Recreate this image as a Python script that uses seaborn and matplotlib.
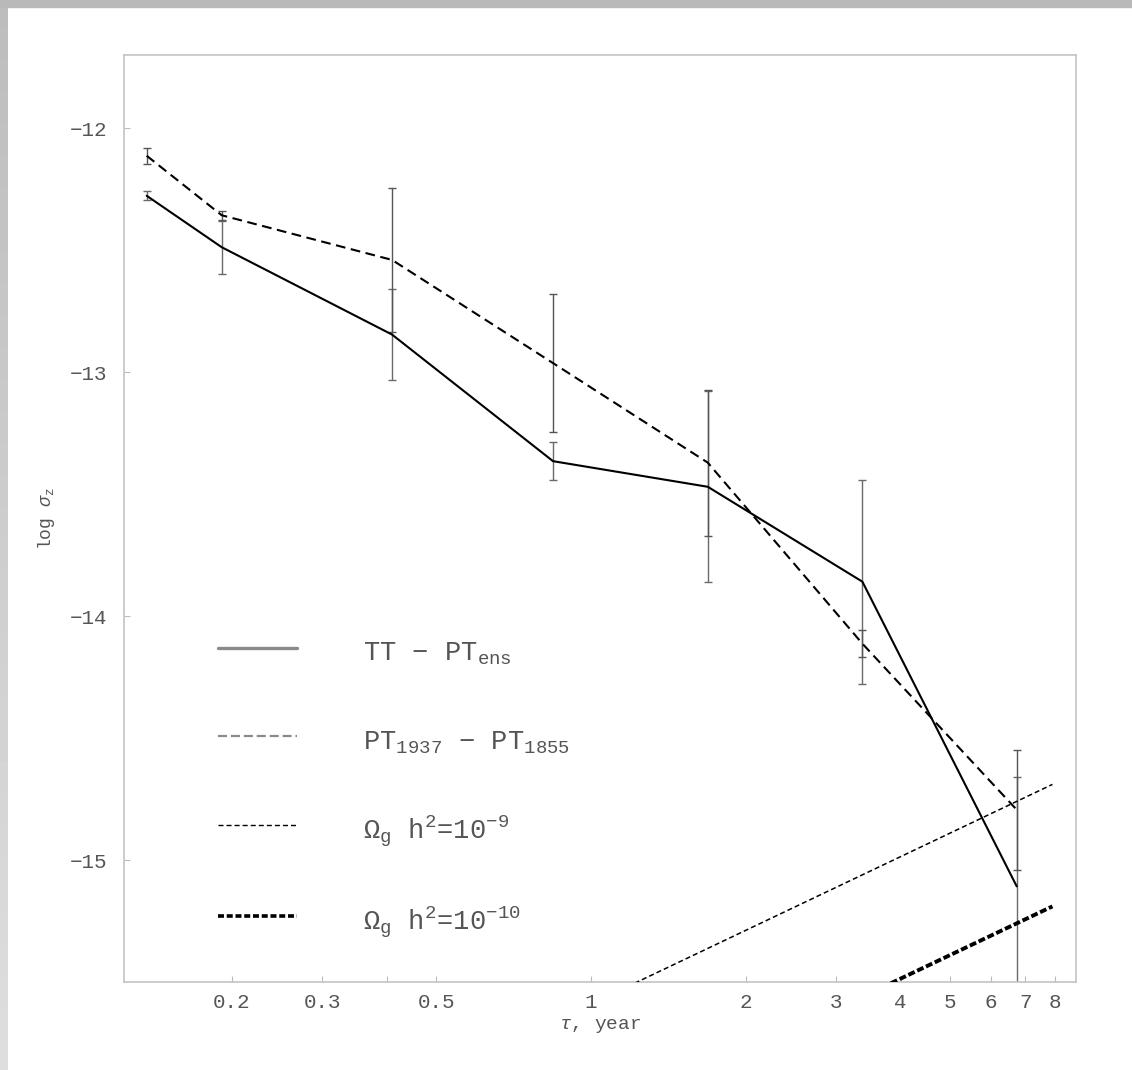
import matplotlib
matplotlib.use("Agg")
import matplotlib.pyplot as plt
import numpy as np
import pandas as pd
import seaborn as sns
from matplotlib.lines import Line2D
from matplotlib.patches import Rectangle

# averaging time tau (years)
tau = [0.1366, 0.1912, 0.410, 0.8434, 1.687, 3.372, 6.733]

# TT - PT_ens
tt_log = [-12.277, -12.488, -12.846, -13.365, -13.470, -13.859, -15.108]
tt_err = [0.019, 0.109, 0.186, 0.077, 0.392, 0.418, 0.45]

# PT1937 - PT1855
pt_log = [-12.113, -12.357, -12.540, -12.963, -13.371, -14.113, -14.794]
pt_err = [0.033, 0.019, 0.294, 0.284, 0.299, 0.056, 0.247]

# gravitational-wave background limits (straight lines in log-log)
gw_tau = [1.0, 7.9]
gw9_log = [-15.59, -14.69]
gw10_log = [-16.09, -15.19]

xtick_vals = [0.2, 0.3, 0.4, 0.5, 1, 2, 3, 4, 5, 6, 7, 8]
xtick_labels = ["0.2", "0.3", "", "0.5", "1", "2", "3", "4", "5", "6", "7", "8"]
ytick_vals = [-12, -13, -14, -15]

labels = [
    "TT \u2212 PT$_{\\mathrm{ens}}$",
    "PT$_{\\mathrm{1937}}$ \u2212 PT$_{\\mathrm{1855}}$",
    "\u03a9$_{\\mathrm{g}}$ h$^{\\mathrm{2}}$=10$^{\\mathrm{-9}}$",
    "\u03a9$_{\\mathrm{g}}$ h$^{\\mathrm{2}}$=10$^{\\mathrm{-10}}$",
]

sns.set_theme(style="white")
plt.rcParams["font.family"] = ["Liberation Mono", "DejaVu Sans Mono"]
plt.rcParams["mathtext.fontset"] = "custom"
plt.rcParams["mathtext.rm"] = "Liberation Mono"
plt.rcParams["mathtext.it"] = "Liberation Mono:italic"
plt.rcParams["mathtext.default"] = "rm"
plt.rcParams["lines.scale_dashes"] = False

W, H = 1132, 1070
fig = plt.figure(figsize=(W / 100, H / 100), dpi=100)
fig.patch.set_facecolor("white")

# window-like grey edges
fig.patches.append(Rectangle((0, 1 - 7 / H), 1, 7 / H, transform=fig.transFigure,
                             color="#b9b9b9", zorder=0))
edge = fig.add_axes([0, 0, 8 / W, 1 - 7 / H])
edge.imshow(np.linspace(0.74, 0.87, 100).reshape(-1, 1), cmap="gray", vmin=0, vmax=1,
            aspect="auto")
edge.set_axis_off()

ax = fig.add_axes([124 / W, 1 - 982 / H, (1076 - 124) / W, (982 - 55) / H])
ax.set_xscale("log")

df_tt = pd.DataFrame({"tau": tau, "val": tt_log})
df_pt = pd.DataFrame({"tau": tau, "val": pt_log})

ax.errorbar(tau, tt_log, yerr=tt_err, fmt="none", ecolor="#6a6a6a", elinewidth=1.0,
            capsize=3, capthick=1.0, zorder=2)
ax.errorbar(tau, pt_log, yerr=pt_err, fmt="none", ecolor="#555555", elinewidth=1.0,
            capsize=3, capthick=1.0, zorder=2)

sns.lineplot(data=df_tt, x="tau", y="val", ax=ax, color="black", lw=1.5, zorder=3)
sns.lineplot(data=df_pt, x="tau", y="val", ax=ax, color="black", lw=1.5,
             linestyle=(0, (7, 4)), zorder=3)
sns.lineplot(x=gw_tau, y=gw9_log, ax=ax, color="black", lw=1.1,
             linestyle=(0, (3.6, 2.2)), zorder=3)
sns.lineplot(x=gw_tau, y=gw10_log, ax=ax, color="black", lw=2.8,
             linestyle=(0, (5, 2)), zorder=3)

ax.set_xlim(0.1234, 8.78)
ax.set_ylim(-15.5, -11.7)

ax.set_xticks(xtick_vals)
ax.set_xticklabels(xtick_labels)
ax.xaxis.set_minor_locator(matplotlib.ticker.NullLocator())
ax.set_yticks(ytick_vals)
ax.set_yticklabels([f"\u2212{abs(v)}" for v in ytick_vals])

ax.tick_params(axis="both", which="major", direction="in", length=4.5, width=0.8,
               color="#bbbbbb", labelcolor="#555555", labelsize=15)
ax.tick_params(axis="x", pad=8, bottom=True, top=False)
ax.tick_params(axis="y", pad=12, left=True, right=False)
for sp in ax.spines.values():
    sp.set_color("#c4c4c4")
    sp.set_linewidth(1.2)

ax.set_xlabel("$\\mathit{\\tau}$, year", fontsize=14, color="#555555", labelpad=3)
ax.set_ylabel("log $\\mathit{\\sigma}_{\\mathrm{z}}$", fontsize=13, color="#555555",
              labelpad=9)

handles = [
    Line2D([], [], color="#8a8a8a", lw=2.4),
    Line2D([], [], color="#8a8a8a", lw=1.6, linestyle=(0, (6.5, 2.8))),
    Line2D([], [], color="black", lw=1.0, linestyle=(0, (3.6, 2.2))),
    Line2D([], [], color="black", lw=2.6, linestyle=(0, (4.3, 2.0))),
]
leg = ax.legend(handles, labels, loc="upper left", bbox_to_anchor=(0.0987, 0.375),
                frameon=False, fontsize=19.5, handlelength=2.93, handletextpad=2.44,
                handleheight=1.6, labelspacing=2.0, borderpad=0, borderaxespad=0)
for t in leg.get_texts():
    t.set_color("#555555")

fig.savefig("out.png", dpi=100)
